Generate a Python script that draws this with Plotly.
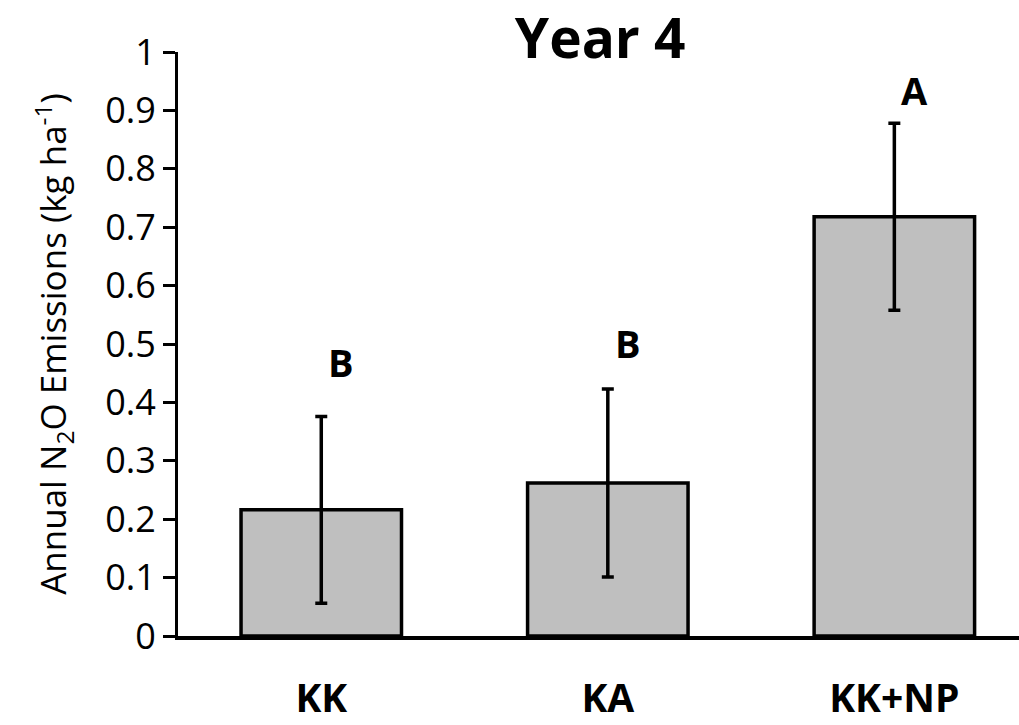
import plotly.graph_objects as go

# Annual N2O emissions, year 4
treatments = ["KK", "KA", "KK+NP"]
emissions = [0.216, 0.262, 0.718]
std_err = [0.160, 0.161, 0.160]
letters = ["B", "B", "A"]
letter_y = [0.470, 0.502, 0.935]
y_ticks = [0, 0.1, 0.2, 0.3, 0.4, 0.5, 0.6, 0.7, 0.8, 0.9, 1]
y_tick_text = ["0", "0.1", "0.2", "0.3", "0.4", "0.5", "0.6", "0.7", "0.8", "0.9", "1"]

FONT = "Open Sans"

fig = go.Figure(
    go.Bar(
        x=treatments,
        y=emissions,
        width=0.56,
        marker=dict(color="#BFBFBF", line=dict(color="black", width=3.5)),
        error_y=dict(type="data", array=std_err, visible=True,
                     color="black", thickness=3.5, width=6),
    )
)

for t, lab, ly in zip(treatments, letters, letter_y):
    fig.add_annotation(x=t, y=ly, text=f"<b>{lab}</b>", showarrow=False,
                       xshift=20, font=dict(family=FONT, size=38, color="black"))

fig.update_layout(
    width=1019, height=725,
    margin=dict(l=178, r=0, t=52, b=89, autoexpand=False),
    plot_bgcolor="white", paper_bgcolor="white",
    showlegend=False,
    title=dict(text="<b>Year 4</b>", x=0.589, xanchor="center", y=0.946, yanchor="middle",
               font=dict(family=FONT, size=55, color="black")),
    xaxis=dict(
        range=[-0.5, 2.435],
        showline=True, linecolor="black", linewidth=3.5,
        ticks="", showgrid=False,
        tickfont=dict(family=FONT, size=39, color="black"),
        tickvals=treatments, ticktext=[f"<b>{t}</b>" for t in treatments],
        ticklabelstandoff=25,
    ),
    yaxis=dict(
        range=[0, 1],
        tickvals=y_ticks, ticktext=y_tick_text,
        showline=True, linecolor="black", linewidth=3,
        ticks="outside", ticklen=12, tickwidth=3, tickcolor="black",
        showgrid=False, zeroline=False,
        tickfont=dict(family=FONT, size=36, color="black"),
        title=dict(text="Annual N<sub>2</sub>O Emissions (kg ha<sup>-1</sup>)",
                   font=dict(family=FONT, size=35, color="black"), standoff=28),
    ),
)

fig.write_html("out.html")
